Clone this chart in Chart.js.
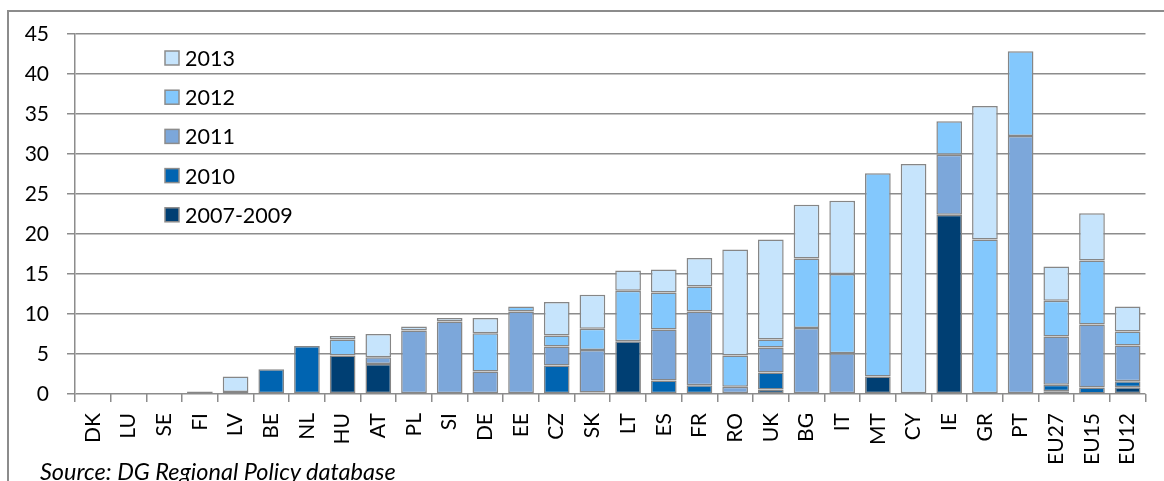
<!DOCTYPE html>
<html lang="en">

<head>
    <meta charset="UTF-8">
    <title>Financial engineering allocation by country</title>
    <style>
        body { margin: 0; background: #fff; }
        .quadro { position: absolute; left: 7px; top: 10px; width: 1160px; height: 480px; border-left: 2px solid #8c8c8c; border-top: 2px solid #8c8c8c; }
        #grafico { position: absolute; left: 0; top: 0; }
        .fonte { position: absolute; left: 40px; top: 457px; font: italic 23.5px Lato, sans-serif; color: #000; }
    </style>
</head>

<body>
    <div class="quadro"></div>
    <canvas id="grafico" width="1164" height="481"></canvas>
    <div class="fonte">Source: DG Regional Policy database</div>
</body>

</html>
<script src="https://cdn.jsdelivr.net/npm/chart.js"></script>
<script>

    // dados
    var paises = ['DK', 'LU', 'SE', 'FI', 'LV', 'BE', 'NL', 'HU', 'AT', 'PL', 'SI', 'DE', 'EE', 'CZ', 'SK',
        'LT', 'ES', 'FR', 'RO', 'UK', 'BG', 'IT', 'MT', 'CY', 'IE', 'GR', 'PT', 'EU27', 'EU15', 'EU12'];

    var anos = ['2007-2009', '2010', '2011', '2012', '2013'];

    var v2007_2009 = [null, null, null, null, null, null, null, 4.8, 3.75, null, null, null, null, null, null,
        6.6, null, null, null, 0.55, null, null, 2.2, null, 22.4, null, null, 0.35, 0.05, 0.85];
    var v2010 = [null, null, null, null, 0.25, 3.1, 6.0, null, null, null, null, null, null, 3.55, 0.2,
        null, 1.7, 1.1, null, 2.15, null, null, null, null, null, null, null, 0.8, 0.75, 0.75];
    var v2011 = [null, null, null, 0.3, null, null, null, null, 0.85, 7.95, 9.05, 2.8, 10.3, 2.4, 5.3,
        null, 6.35, 9.2, 0.9, 3.1, 8.25, 5.1, null, null, 7.5, null, 32.25, 6.05, 7.9, 4.45];
    var v2012 = [null, null, null, null, null, null, null, 2.0, null, null, null, 4.8, 0.65, 1.35, 2.65,
        6.3, 4.65, 3.15, 3.9, 1.0, 8.7, 9.9, 25.4, null, 4.2, 19.3, 10.6, 4.45, 8.0, 1.75];
    var v2013 = [null, null, null, null, 1.95, null, null, 0.45, 2.9, 0.5, 0.45, 1.9, null, 4.2, 4.25,
        2.55, 2.85, 3.55, 13.25, 12.5, 6.7, 9.15, null, 28.75, null, 16.7, null, 4.3, 5.9, 3.15];

    var ticksY = [0, 5, 10, 15, 20, 25, 30, 35, 40, 45];

    var cores = ['#003f73', '#0064b1', '#7ca7da', '#83c8fd', '#c6e4fc'];
    var series = [v2007_2009, v2010, v2011, v2012, v2013];

    var cinza = '#8c8c8c';

    Chart.defaults.font.family = 'Lato, sans-serif';
    Chart.defaults.font.size = 21;
    Chart.defaults.color = '#000';

    // legenda desenhada dentro da area do grafico
    var legendaDentro = {
        id: 'legendaDentro',
        afterDraw: function (chart) {
            var ctx = chart.ctx;
            var ds = chart.data.datasets;
            ctx.save();
            ctx.font = '21.5px Lato, sans-serif';
            ctx.textBaseline = 'middle';
            for (let i = 0; i < ds.length; i++) {
                var y = 58 + i * 39.2;
                var d = ds[ds.length - 1 - i];
                ctx.fillStyle = d.backgroundColor;
                ctx.fillRect(165, y - 7, 14, 14);
                ctx.strokeStyle = cinza;
                ctx.lineWidth = 1.5;
                ctx.strokeRect(165, y - 7, 14, 14);
                ctx.fillStyle = '#000';
                ctx.fillText(d.label, 185, y + 1);
            }
            ctx.restore();
        }
    };

    var grafico = new Chart(document.getElementById('grafico'), {
        type: 'bar',
        data: {
            labels: paises,
            datasets: anos.map(function (ano, i) {
                return {
                    label: ano,
                    data: series[i],
                    backgroundColor: cores[i],
                    borderColor: '#868686',
                    borderWidth: 1.5,
                    borderSkipped: false,
                    categoryPercentage: 1,
                    barPercentage: 0.72
                };
            })
        },
        options: {
            responsive: false,
            animation: false,
            layout: { padding: { top: 34, right: 9, left: 0, bottom: 0 } },
            plugins: {
                legend: { display: false },
                tooltip: { enabled: false }
            },
            scales: {
                x: {
                    stacked: true,
                    afterFit: function (s) { s.height = 87; },
                    grid: {
                        offset: true,
                        drawOnChartArea: false,
                        drawTicks: true,
                        tickLength: 8,
                        color: cinza,
                        lineWidth: 1.5
                    },
                    border: { display: false },
                    ticks: { minRotation: 90, maxRotation: 90, padding: 11, autoSkip: false }
                },
                y: {
                    stacked: true,
                    min: 0,
                    max: 45,
                    afterFit: function (s) { s.width = 75; },
                    afterBuildTicks: function (s) {
                        s.ticks = ticksY.map(function (v) { return { value: v }; });
                    },
                    grid: { color: cinza, lineWidth: 1.5, tickLength: 8 },
                    border: { color: cinza, width: 1.5 },
                    ticks: { padding: 18 }
                }
            }
        },
        plugins: [legendaDentro]
    });
</script>
